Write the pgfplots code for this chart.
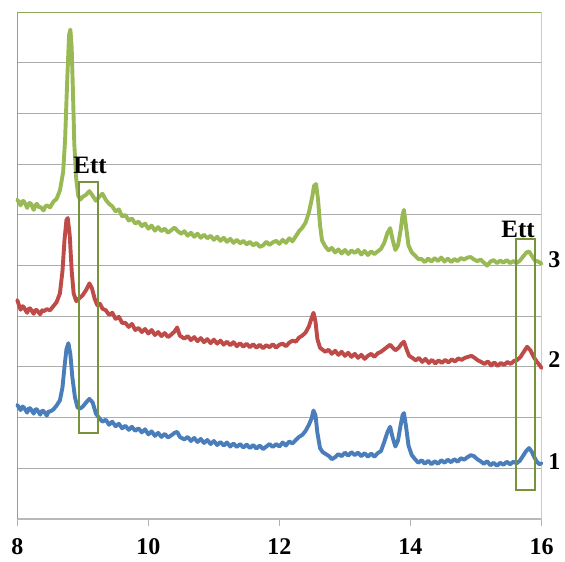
\documentclass[border=0pt]{standalone}
\usepackage{fontspec}
\setmainfont{Liberation Serif}
\usepackage{pgfplots}
\pgfplotsset{compat=1.18}
\usepackage{pgfplotstable}

\definecolor{sBlue}{HTML}{4A7EBB}
\definecolor{sRed}{HTML}{BE4B48}
\definecolor{sGreen}{HTML}{98B954}
\definecolor{boxGreen}{HTML}{77933C}
\definecolor{frameGreen}{HTML}{8FAA5A}
\definecolor{frameLight}{HTML}{C3D69B}

% curve 1 (blue)
\pgfplotstableread{
x y
8.00 2.25
8.03 2.19
8.05 2.15
8.08 2.22
8.10 2.20
8.13 2.14
8.15 2.10
8.18 2.19
8.20 2.18
8.23 2.12
8.25 2.08
8.28 2.17
8.30 2.16
8.33 2.10
8.35 2.06
8.38 2.14
8.40 2.13
8.43 2.08
8.45 2.04
8.48 2.13
8.50 2.12
8.55 2.16
8.60 2.24
8.65 2.34
8.69 2.60
8.72 3.00
8.75 3.35
8.78 3.47
8.81 3.25
8.84 2.80
8.88 2.40
8.92 2.20
8.96 2.18
9.00 2.22
9.05 2.30
9.10 2.37
9.15 2.30
9.20 2.08
9.25 1.99
9.30 1.92
9.35 1.96
9.40 1.86
9.45 1.92
9.50 1.83
9.55 1.88
9.60 1.79
9.65 1.84
9.70 1.76
9.75 1.82
9.80 1.74
9.85 1.79
9.90 1.71
9.95 1.77
10.00 1.67
10.05 1.73
10.10 1.64
10.15 1.70
10.20 1.62
10.25 1.68
10.30 1.61
10.35 1.65
10.40 1.70
10.44 1.72
10.48 1.62
10.55 1.57
10.60 1.62
10.65 1.54
10.70 1.60
10.75 1.52
10.80 1.58
10.85 1.50
10.90 1.56
10.95 1.48
11.00 1.54
11.05 1.46
11.10 1.52
11.15 1.45
11.20 1.51
11.25 1.43
11.30 1.49
11.35 1.42
11.40 1.48
11.45 1.41
11.50 1.47
11.55 1.40
11.60 1.46
11.65 1.39
11.70 1.45
11.75 1.38
11.80 1.43
11.85 1.48
11.90 1.42
11.95 1.48
12.00 1.43
12.05 1.51
12.10 1.45
12.15 1.53
12.20 1.49
12.25 1.56
12.30 1.62
12.35 1.66
12.40 1.74
12.45 1.86
12.49 1.98
12.52 2.14
12.55 2.05
12.58 1.70
12.62 1.40
12.66 1.32
12.71 1.28
12.76 1.24
12.80 1.18
12.85 1.22
12.90 1.28
12.95 1.24
13.00 1.31
13.05 1.25
13.10 1.32
13.15 1.26
13.20 1.31
13.25 1.24
13.30 1.30
13.35 1.23
13.40 1.29
13.45 1.23
13.50 1.30
13.55 1.34
13.60 1.52
13.65 1.72
13.69 1.82
13.73 1.60
13.77 1.43
13.81 1.55
13.85 1.85
13.88 2.05
13.90 2.09
13.93 1.85
13.97 1.45
14.02 1.26
14.07 1.18
14.12 1.11
14.17 1.16
14.22 1.09
14.27 1.15
14.32 1.08
14.37 1.14
14.42 1.09
14.47 1.16
14.52 1.11
14.57 1.17
14.62 1.12
14.67 1.18
14.72 1.13
14.77 1.20
14.82 1.17
14.87 1.22
14.92 1.26
14.97 1.24
15.02 1.18
15.07 1.14
15.12 1.09
15.17 1.14
15.22 1.06
15.27 1.11
15.32 1.05
15.37 1.11
15.42 1.07
15.47 1.13
15.52 1.08
15.57 1.13
15.62 1.10
15.67 1.15
15.72 1.25
15.77 1.35
15.81 1.40
15.85 1.33
15.89 1.22
15.93 1.13
15.97 1.08
16.00 1.10
}\curveone

% curve 2 (red)
\pgfplotstableread{
x y
8.00 4.32
8.03 4.20
8.05 4.13
8.08 4.20
8.10 4.18
8.13 4.11
8.15 4.07
8.18 4.16
8.20 4.15
8.23 4.09
8.25 4.05
8.28 4.13
8.30 4.12
8.33 4.07
8.35 4.04
8.38 4.12
8.40 4.10
8.45 4.14
8.50 4.12
8.55 4.20
8.60 4.28
8.65 4.45
8.69 4.90
8.72 5.50
8.75 5.90
8.77 5.94
8.80 5.60
8.83 4.90
8.86 4.45
8.90 4.30
8.95 4.36
9.00 4.42
9.05 4.52
9.10 4.65
9.14 4.55
9.18 4.35
9.22 4.22
9.26 4.25
9.30 4.15
9.35 4.12
9.40 4.03
9.45 4.07
9.50 3.95
9.55 3.99
9.60 3.87
9.65 3.87
9.70 3.79
9.75 3.85
9.80 3.73
9.85 3.77
9.90 3.69
9.95 3.75
10.00 3.66
10.05 3.73
10.10 3.63
10.15 3.69
10.20 3.61
10.25 3.67
10.30 3.59
10.35 3.64
10.40 3.70
10.44 3.78
10.48 3.62
10.55 3.56
10.60 3.61
10.65 3.53
10.70 3.59
10.75 3.51
10.80 3.57
10.85 3.49
10.90 3.55
10.95 3.47
11.00 3.54
11.05 3.46
11.10 3.52
11.15 3.44
11.20 3.50
11.25 3.43
11.30 3.49
11.35 3.41
11.40 3.47
11.45 3.40
11.50 3.46
11.55 3.39
11.60 3.45
11.65 3.38
11.70 3.44
11.75 3.37
11.80 3.43
11.85 3.39
11.90 3.45
11.95 3.38
12.00 3.44
12.05 3.46
12.10 3.41
12.15 3.48
12.20 3.52
12.25 3.50
12.30 3.58
12.35 3.62
12.40 3.68
12.45 3.80
12.49 3.96
12.52 4.07
12.55 3.90
12.58 3.55
12.62 3.38
12.66 3.34
12.70 3.30
12.75 3.34
12.80 3.26
12.85 3.32
12.90 3.24
12.95 3.30
13.00 3.22
13.05 3.28
13.10 3.20
13.15 3.26
13.20 3.18
13.25 3.24
13.30 3.16
13.35 3.22
13.40 3.26
13.45 3.20
13.50 3.27
13.55 3.30
13.60 3.35
13.65 3.40
13.69 3.44
13.73 3.38
13.77 3.33
13.82 3.38
13.86 3.45
13.90 3.50
13.94 3.35
13.98 3.22
14.03 3.18
14.08 3.13
14.13 3.18
14.18 3.10
14.23 3.16
14.28 3.08
14.33 3.14
14.38 3.07
14.43 3.13
14.48 3.08
14.53 3.14
14.58 3.09
14.63 3.15
14.68 3.11
14.73 3.17
14.78 3.14
14.83 3.18
14.88 3.20
14.93 3.22
14.98 3.18
15.03 3.13
15.08 3.10
15.13 3.06
15.18 3.11
15.23 3.03
15.28 3.09
15.33 3.02
15.38 3.08
15.43 3.04
15.48 3.10
15.53 3.06
15.58 3.12
15.63 3.14
15.68 3.20
15.73 3.30
15.78 3.40
15.83 3.33
15.88 3.20
15.93 3.10
15.97 3.04
16.00 2.98
}\curvetwo

% curve 3 (green)
\pgfplotstableread{
x y
8.00 6.30
8.03 6.24
8.05 6.19
8.08 6.28
8.10 6.27
8.13 6.20
8.15 6.14
8.18 6.23
8.20 6.24
8.23 6.16
8.25 6.10
8.28 6.20
8.30 6.22
8.33 6.15
8.35 6.16
8.38 6.12
8.40 6.09
8.43 6.17
8.45 6.19
8.50 6.15
8.55 6.26
8.60 6.32
8.65 6.48
8.70 6.85
8.73 7.50
8.76 8.60
8.79 9.55
8.81 9.66
8.83 9.30
8.85 8.40
8.87 7.40
8.90 6.70
8.93 6.38
8.96 6.30
9.00 6.36
9.05 6.40
9.10 6.47
9.15 6.38
9.20 6.28
9.25 6.36
9.30 6.42
9.35 6.30
9.40 6.22
9.45 6.17
9.50 6.07
9.55 6.11
9.60 5.97
9.65 6.00
9.70 5.89
9.75 5.93
9.80 5.83
9.85 5.87
9.90 5.78
9.95 5.83
10.00 5.73
10.05 5.79
10.10 5.69
10.15 5.76
10.20 5.68
10.25 5.73
10.30 5.65
10.35 5.70
10.40 5.75
10.45 5.68
10.50 5.63
10.55 5.68
10.60 5.59
10.65 5.65
10.70 5.57
10.75 5.63
10.80 5.55
10.85 5.61
10.90 5.54
10.95 5.59
11.00 5.51
11.05 5.57
11.10 5.49
11.15 5.55
11.20 5.47
11.25 5.53
11.30 5.45
11.35 5.51
11.40 5.44
11.45 5.49
11.50 5.42
11.55 5.47
11.60 5.40
11.65 5.45
11.70 5.37
11.75 5.40
11.80 5.47
11.85 5.41
11.90 5.46
11.95 5.49
12.00 5.43
12.05 5.51
12.10 5.45
12.15 5.54
12.20 5.48
12.25 5.58
12.30 5.68
12.35 5.75
12.40 5.85
12.45 6.05
12.50 6.35
12.53 6.58
12.56 6.61
12.59 6.30
12.62 5.80
12.65 5.50
12.70 5.38
12.75 5.30
12.80 5.35
12.85 5.26
12.90 5.32
12.95 5.24
13.00 5.31
13.05 5.23
13.10 5.30
13.15 5.25
13.20 5.31
13.25 5.22
13.30 5.29
13.35 5.21
13.40 5.28
13.45 5.23
13.50 5.28
13.55 5.33
13.60 5.45
13.65 5.65
13.69 5.74
13.73 5.50
13.77 5.31
13.81 5.40
13.85 5.70
13.88 6.00
13.90 6.10
13.93 5.80
13.97 5.40
14.02 5.26
14.07 5.20
14.12 5.13
14.17 5.13
14.22 5.07
14.27 5.14
14.32 5.08
14.37 5.15
14.42 5.09
14.47 5.16
14.52 5.08
14.57 5.14
14.62 5.07
14.67 5.13
14.72 5.09
14.77 5.15
14.82 5.12
14.87 5.16
14.92 5.17
14.97 5.12
15.02 5.09
15.07 5.12
15.12 5.06
15.17 5.00
15.22 5.08
15.27 5.11
15.32 5.05
15.37 5.10
15.42 5.06
15.47 5.11
15.52 5.05
15.57 5.09
15.62 5.05
15.67 5.10
15.72 5.18
15.77 5.26
15.81 5.28
15.85 5.20
15.90 5.10
15.95 5.08
16.00 5.04
}\curvethree

\begin{document}
\begin{tikzpicture}
  \begin{axis}[
      name=ax,
      scale only axis,
      width=524.2pt, height=506.7pt,
      xmin=8, xmax=16, ymin=0, ymax=10,
      xtick={8,10,12,14,16},
      ytick={0,1,...,10},
      yticklabels={},
      xtick pos=bottom,
      tick align=outside,
      major tick length=7pt,
      xtick style={draw=gray!60, line width=1pt},
      ytick style={draw=none},
      ymajorgrids,
      grid style={draw=gray!65, line width=1pt},
      axis line style={draw=none},
      /pgf/number format/assume math mode=true,
      xticklabel style={font=\fontsize{24}{24}\selectfont\bfseries, inner sep=0pt, yshift=-12pt},
      clip=false,
    ]
    % frame: gray bottom, green left/top, light green right
    \draw[gray!55, line width=1.5pt] (rel axis cs:0,0) -- (rel axis cs:1,0);
    \draw[frameGreen, line width=1.2pt] (rel axis cs:0,0) -- (rel axis cs:0,1) -- (rel axis cs:1,1);
    \draw[frameLight, line width=1.5pt] (rel axis cs:1,1) -- (rel axis cs:1,0);

    \addplot[sBlue, line width=3.9pt, line join=round, line cap=round, no markers] table[x=x,y=y] {\curveone};
    \addplot[sRed, line width=3.9pt, line join=round, line cap=round, no markers] table[x=x,y=y] {\curvetwo};
    \addplot[sGreen, line width=3.9pt, line join=round, line cap=round, no markers] table[x=x,y=y] {\curvethree};

    % Ett boxes
    \draw[boxGreen, line width=2pt] (axis cs:8.948,1.70) rectangle (axis cs:9.238,6.65);
    \draw[boxGreen, line width=2pt] (axis cs:15.614,0.57) rectangle (axis cs:15.908,5.52);
    \node[anchor=base, inner sep=0pt, font=\fontsize{25}{25}\selectfont\bfseries] at (axis cs:9.11,6.81) {Ett};
    \node[anchor=base, inner sep=0pt, font=\fontsize{25}{25}\selectfont\bfseries] at (axis cs:15.643,5.565) {Ett};

    % curve numbers
    \node[anchor=west, inner sep=0pt, font=\fontsize{24}{24}\selectfont\bfseries] at (axis cs:16.1,5.11) {3};
    \node[anchor=west, inner sep=0pt, font=\fontsize{24}{24}\selectfont\bfseries] at (axis cs:16.1,3.14) {2};
    \node[anchor=west, inner sep=0pt, font=\fontsize{24}{24}\selectfont\bfseries] at (axis cs:16.1,1.13) {1};
  \end{axis}
  \path ([xshift=-17.3pt,yshift=-42pt]ax.south west) rectangle ([xshift=23.5pt,yshift=12.3pt]ax.north east);
\end{tikzpicture}
\end{document}
